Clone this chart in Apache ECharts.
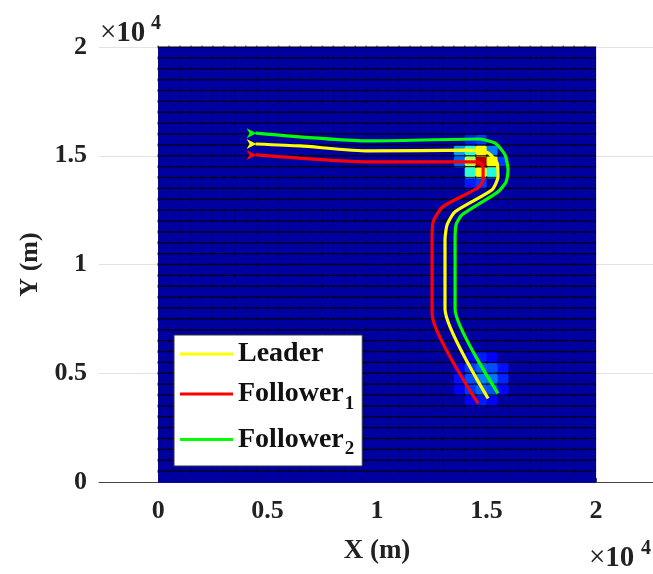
<!DOCTYPE html>
<html>
<head>
<meta charset="utf-8">
<script src="https://cdn.jsdelivr.net/npm/echarts@6/dist/echarts.min.js"></script>
<style>
  html, body { margin: 0; padding: 0; background: #fff; }
  #chart { width: 653px; height: 574px; }
</style>
</head>
<body>
<div id="chart"></div>
<script>
// grid of cells, 500 m each, 40 x 40
const cellSize = 500;
const cellCount = 40;

// cells that are not at the base level (column, row, level 0..1)
const hotCol = [27, 28, 29, 30, 27, 28, 29, 30, 31, 28, 29, 30, 29, 28, 29, 28,
                28, 29, 30, 27, 28, 29, 30, 31, 27, 28, 29, 30, 31, 27, 28, 29, 30, 31, 28, 29, 30];
const hotRow = [30, 30, 30, 30, 29, 29, 29, 29, 29, 28, 28, 28, 31, 31, 27, 27,
                11, 11, 11, 10, 10, 10, 10, 10, 9, 9, 9, 9, 9, 8, 8, 8, 8, 8, 7, 7, 7];
const hotVal = [0.28, 0.42, 0.62, 0.25, 0.22, 0.55, 0.95, 0.62, 0.18, 0.42, 0.62, 0.40, 0.18, 0.15, 0.18, 0.15,
                0.12, 0.15, 0.12, 0.12, 0.18, 0.22, 0.20, 0.14, 0.14, 0.20, 0.25, 0.24, 0.16, 0.12, 0.18, 0.22, 0.20, 0.13, 0.12, 0.15, 0.12];

// trajectories (m)
const leaderX = [4450, 6480, 9590, 14250, 15070, 15480, 15520, 15250, 13560, 13200, 13100, 13100, 15070];
const leaderY = [15540, 15450, 15220, 15260, 15130, 14670, 14030, 13440, 12430, 11840, 11150, 7950, 3840];
const follower1X = [4450, 9590, 14610, 14840, 14840, 14610, 13010, 12560, 12510, 12510, 14610];
const follower1Y = [15040, 14720, 14720, 14440, 13890, 13530, 12660, 11970, 11150, 7720, 3610];
const follower2X = [4450, 9590, 14610, 15390, 15840, 15980, 15890, 15520, 13880, 13610, 13560, 13560, 15520];
const follower2Y = [16040, 15680, 15770, 15580, 15040, 14350, 13800, 13340, 12290, 11840, 11150, 7950, 4070];

const xTicks = [0, 5000, 10000, 15000, 20000];
const seriesNames = ['Leader', 'Follower1', 'Follower2'];
const seriesColors = ['#ffff00', '#ff0000', '#00ff00'];

const serif = "'Liberation Serif', 'Times New Roman', serif";

// full cell grid
const heatData = [];
for (let i = 0; i < cellCount; i++) {
  for (let j = 0; j < cellCount; j++) {
    heatData.push([i * cellSize, j * cellSize, 0]);
  }
}
hotCol.forEach((c, k) => {
  heatData[c * cellCount + hotRow[k]][2] = hotVal[k];
});

function renderCell(params, api) {
  const x0 = api.value(0), y0 = api.value(1);
  const p0 = api.coord([x0, y0]);
  const p1 = api.coord([x0 + cellSize, y0 + cellSize]);
  const x = p0[0], y = p1[1], w = p1[0] - p0[0], h = p0[1] - p1[1];
  const last = x0 + cellSize >= cellSize * cellCount;
  return {
    type: 'group',
    children: [
      { type: 'rect', z2: 0, shape: { x: x, y: y, width: w + (last ? 0 : 0.8), height: h + 0.8 }, style: { fill: api.visual('color') } },
      { type: 'line', z2: 10, shape: { x1: x, y1: y, x2: x + w, y2: y }, style: { stroke: 'rgba(0,0,0,0.8)', lineWidth: 1.3 } },
      { type: 'line', z2: 11, shape: { x1: x, y1: y - 1.5, x2: x, y2: y + 1.5 }, style: { stroke: 'rgba(0,0,0,0.55)', lineWidth: 1.5 } }
    ]
  };
}

const tail = 'path://M0,0 L10,5 L0,10 L3,5 Z';
function track(xs, ys) {
  return xs.map((x, k) => k === 0
    ? { value: [x, ys[k]], symbol: tail, symbolSize: [10, 10], symbolOffset: [-4, 0] }
    : [x, ys[k]]);
}
const tracks = [track(leaderX, leaderY), track(follower1X, follower1Y), track(follower2X, follower2Y)];

const chart = echarts.init(document.getElementById('chart'));

const option = {
  animation: false,
  grid: { left: 99, top: 47, width: 606.6, height: 435, outerBoundsMode: 'none', containLabel: false },
  xAxis: {
    type: 'value',
    min: -2700,
    max: 25000,
    axisLine: { lineStyle: { color: '#444', width: 1 } },
    axisTick: { show: true, inside: true, length: 4, customValues: xTicks, lineStyle: { color: '#444' } },
    axisLabel: {
      customValues: xTicks,
      formatter: v => String(v / 10000),
      margin: 16,
      fontFamily: serif, fontWeight: 'bold', fontSize: 26, color: '#222'
    },
    splitLine: { show: false }
  },
  yAxis: {
    type: 'value',
    min: 0,
    max: 20000,
    interval: 5000,
    name: 'Y (m)',
    nameLocation: 'middle',
    nameGap: 56,
    nameTextStyle: { fontFamily: serif, fontWeight: 'bold', fontSize: 26, color: '#222' },
    axisLine: { show: true, lineStyle: { color: '#444', width: 1 } },
    axisTick: { show: true, inside: true, length: 4, lineStyle: { color: '#444' } },
    axisLabel: {
      formatter: v => String(v / 10000),
      margin: 12,
      fontFamily: serif, fontWeight: 'bold', fontSize: 26, color: '#222'
    },
    splitLine: { show: true, lineStyle: { color: '#e3e3e3', width: 1 } }
  },
  visualMap: {
    show: false,
    seriesIndex: 0,
    dimension: 2,
    min: 0,
    max: 1,
    inRange: { color: ['#0000a0', '#0000ff', '#0080ff', '#00ffff', '#80ff80', '#ffff00', '#ff8000', '#ff0000', '#800000'] }
  },
  legend: {
    orient: 'vertical',
    left: 174,
    top: 335,
    data: seriesNames,
    icon: 'rect',
    itemWidth: 53,
    itemHeight: 3,
    itemGap: 12,
    padding: [5, 8, 7, 6],
    backgroundColor: '#fff',
    borderColor: '#333',
    borderWidth: 1,
    borderRadius: 0,
    formatter: name => name === 'Leader' ? '{n|Leader}' : '{n|Follower}{s|' + name.slice(-1) + '}',
    textStyle: {
      rich: {
        n: { fontFamily: serif, fontWeight: 'bold', fontSize: 28, color: '#111', height: 36 },
        s: { fontFamily: serif, fontWeight: 'bold', fontSize: 19, color: '#111', verticalAlign: 'bottom', padding: [20, 0, 0, 1] }
      }
    }
  },
  graphic: [
    { type: 'text', left: 100, top: 19, style: { text: '{x|×}{n|10}', rich: {
      x: { fontFamily: serif, fontSize: 29, fill: '#222' },
      n: { fontFamily: serif, fontSize: 29, fontWeight: 'bold', fill: '#222' } } } },
    { type: 'text', left: 151, top: 14, style: { text: '4', font: 'bold 20px ' + serif, fill: '#222' } },
    { type: 'text', left: 589, top: 544, style: { text: '{x|×}{n|10}', rich: {
      x: { fontFamily: serif, fontSize: 29, fill: '#222' },
      n: { fontFamily: serif, fontSize: 29, fontWeight: 'bold', fill: '#222' } } } },
    { type: 'text', left: 641, top: 539, style: { text: '4', font: 'bold 20px ' + serif, fill: '#222' } },
    { type: 'text', x: 377, y: 551, style: { text: 'X (m)', font: 'bold 27px ' + serif, fill: '#222', align: 'center', verticalAlign: 'middle' } }
  ],
  series: [
    {
      type: 'custom',
      renderItem: renderCell,
      dimensions: ['x', 'y', 'level'],
      encode: { x: 0, y: 1 },
      data: heatData,
      silent: true,
      z: 1
    }
  ].concat(seriesNames.map((name, k) => ({
    name: name,
    type: 'line',
    data: tracks[k],
    symbol: 'none',
    showSymbol: true,
    smooth: 0.2,
    lineStyle: { color: seriesColors[k], width: 3.2 },
    itemStyle: { color: seriesColors[k] },
    z: 3
  })))
};

chart.setOption(option);
</script>
</body>
</html>
